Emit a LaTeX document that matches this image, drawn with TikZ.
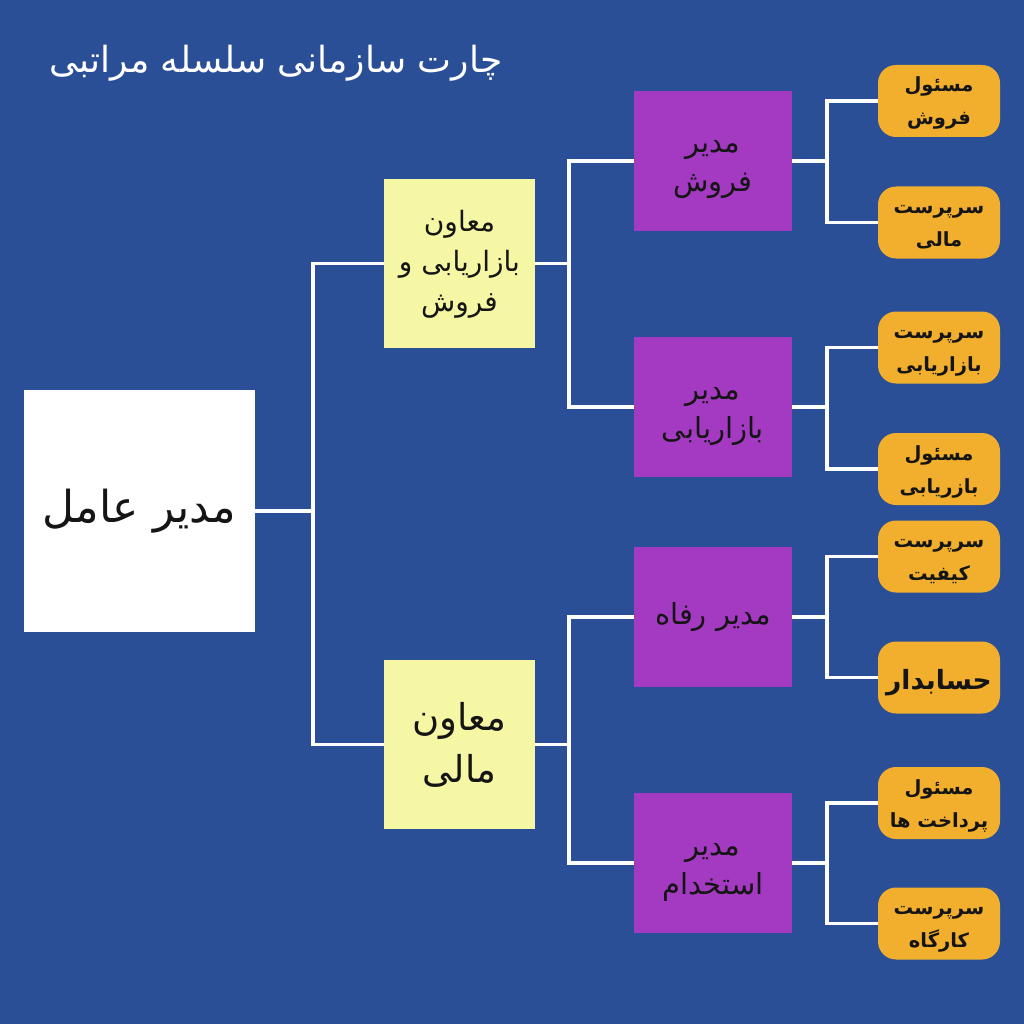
\documentclass[tikz,border=0pt]{standalone}
\usepackage{fontspec}
\newfontfamily\arabicfont[Script=Arabic]{DejaVu Sans}
\TeXXeTstate=1
\newcommand{\fa}[1]{{\arabicfont\beginR #1\endR}}
\newcommand{\fab}[1]{{\arabicfont\bfseries\beginR #1\endR}}
\definecolor{bgblue}{HTML}{2B4F97}
\definecolor{ceowhite}{HTML}{FFFFFF}
\definecolor{vpyellow}{HTML}{F6F7A4}
\definecolor{mgrpurple}{HTML}{A43AC2}
\definecolor{suporange}{HTML}{F2AF2E}
\definecolor{inkdark}{HTML}{151515}
\tikzset{
  ceobox/.style={fill=ceowhite, minimum width=231pt, minimum height=242pt, inner sep=0pt, align=center, text=inkdark, font=\fontsize{44}{52}\selectfont},
  vpbox/.style={fill=vpyellow, minimum width=151pt, minimum height=169pt, inner sep=0pt, align=center, text=inkdark, font=\fontsize{28}{40}\selectfont},
  vpthree/.style={vpbox, text depth=0pt, text height=95pt},
  vpbig/.style={vpbox, font=\fontsize{37}{52}\selectfont},
  mgrbox/.style={fill=mgrpurple, minimum width=158pt, minimum height=140pt, inner sep=0pt, align=center, text=inkdark, font=\fontsize{29}{39}\selectfont},
  mgrtwo/.style={mgrbox, text depth=0pt, text height=62pt},
  supbox/.style={fill=suporange, rounded corners=18pt, minimum width=122pt, minimum height=72pt, inner sep=0pt, align=center, text=inkdark, font=\fontsize{19.5}{33}\selectfont, text depth=0pt, text height=48pt},
  supbig/.style={supbox, font=\fontsize{26.5}{33}\selectfont, text height=24pt},
  conn/.style={draw=white, line width=3.5pt, line join=miter},
}
\begin{document}
\begin{tikzpicture}[x=1pt, y=-1pt]
\useasboundingbox (0,0) rectangle (1024,1024);
\fill[bgblue] (0,0) rectangle (1024,1024);

\node[text=white, anchor=east, font=\fontsize{36}{40}\selectfont] (title) at (506,63) {\fa{چارت سازمانی سلسله مراتبی}};

\node[ceobox] (ceo) at (139.5,511) {\fa{مدیر عامل}};

\node[vpthree] (vp1) at (459.5,263.5) {\fa{معاون}\\\fa{بازاریابی و}\\\fa{فروش}};
\node[vpbig] (vp2) at (459.5,744.5) {\fa{معاون}\\\fa{مالی}};

\node[mgrtwo] (m1) at (713,161) {\fa{مدیر}\\\fa{فروش}};
\node[mgrtwo] (m2) at (713,407) {\fa{مدیر}\\\fa{بازاریابی}};
\node[mgrbox] (m3) at (713,617) {\fa{مدیر رفاه}};
\node[mgrtwo] (m4) at (713,863) {\fa{مدیر}\\\fa{استخدام}};

\node[supbox] (s1) at (939,101) {\fab{مسئول}\\\fab{فروش}};
\node[supbox] (s2) at (939,222.5) {\fab{سرپرست}\\\fab{مالی}};
\node[supbox] (s3) at (939,347.5) {\fab{سرپرست}\\\fab{بازاریابی}};
\node[supbox] (s4) at (939,469) {\fab{مسئول}\\\fab{بازریابی}};
\node[supbox] (s5) at (939,556.5) {\fab{سرپرست}\\\fab{کیفیت}};
\node[supbig] (s6) at (939,677.5) {\fab{حسابدار}};
\node[supbox] (s7) at (939,803) {\fab{مسئول}\\\fab{پرداخت ها}};
\node[supbox] (s8) at (939,923.5) {\fab{سرپرست}\\\fab{کارگاه}};

\draw[conn] (ceo.east) -- ++(58,0) |- (vp1.west);
\draw[conn] (ceo.east) -- ++(58,0) |- (vp2.west);
\draw[conn] (vp1.east) -- ++(34,0) |- (m1.west);
\draw[conn] (vp1.east) -- ++(34,0) |- (m2.west);
\draw[conn] (vp2.east) -- ++(34,0) |- (m3.west);
\draw[conn] (vp2.east) -- ++(34,0) |- (m4.west);
\draw[conn] (m1.east) -- ++(35,0) |- (s1.west);
\draw[conn] (m1.east) -- ++(35,0) |- (s2.west);
\draw[conn] (m2.east) -- ++(35,0) |- (s3.west);
\draw[conn] (m2.east) -- ++(35,0) |- (s4.west);
\draw[conn] (m3.east) -- ++(35,0) |- (s5.west);
\draw[conn] (m3.east) -- ++(35,0) |- (s6.west);
\draw[conn] (m4.east) -- ++(35,0) |- (s7.west);
\draw[conn] (m4.east) -- ++(35,0) |- (s8.west);
\end{tikzpicture}
\end{document}
